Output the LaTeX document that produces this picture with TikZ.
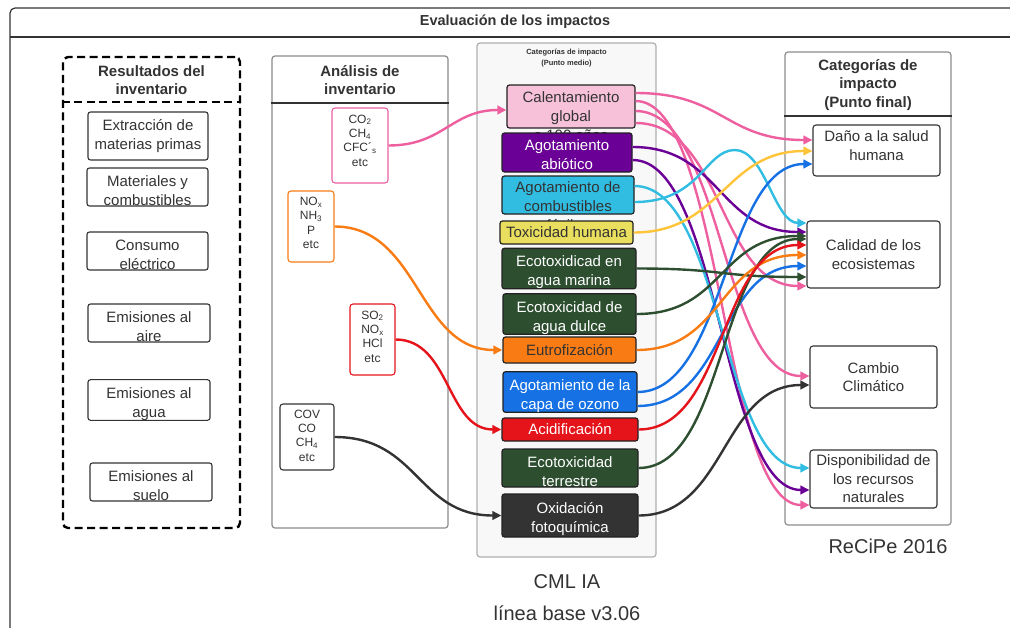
\documentclass[tikz,border=0pt]{standalone}
\usepackage{fontspec}
\setmainfont{Liberation Sans}
\usetikzlibrary{arrows.meta,calc}

\definecolor{ink}{HTML}{333333}
\definecolor{edge}{HTML}{222222}
\definecolor{panelgray}{HTML}{8C8C8C}
\definecolor{midfill}{HTML}{F8F8F8}
\definecolor{pinkln}{HTML}{EE5FA0}
\definecolor{pinkfill}{HTML}{F7C2D9}
\definecolor{purp}{HTML}{6A0096}
\definecolor{cyanc}{HTML}{31BDE2}
\definecolor{yelln}{HTML}{FFC43A}
\definecolor{yellfill}{HTML}{E9DE5E}
\definecolor{dgreen}{HTML}{2D4F30}
\definecolor{orng}{HTML}{F97B14}
\definecolor{blu}{HTML}{1672E4}
\definecolor{redc}{HTML}{E5141B}

\newcommand\fsz[2]{\fontsize{#1}{#2}\selectfont}
% taller first line: sets a two-line label a little lower in its box
\newcommand\topgap{\rule{0pt}{18.5pt}}

\begin{document}
\begin{tikzpicture}[x=1pt,y=-1pt,
  panel/.style={draw=panelgray, line width=1.2pt, rounded corners=3pt, inner sep=0pt},
  divider/.style={draw=ink, line width=1.2pt},
  head/.style={font=\bfseries\fsz{15}{18.5}, text=ink, align=center, inner sep=0pt},
  inv/.style={draw=ink, line width=1.1pt, rounded corners=2.5pt, fill=white, inner sep=0pt,
              font=\fsz{15}{19}, text=ink, align=center},
  chem/.style={line width=1.1pt, rounded corners=3pt, fill=white, inner sep=0pt},
  chemtext/.style={font=\fsz{12}{14.3}, text=ink, align=center, inner sep=0pt},
  cat/.style={draw=edge, line width=1.2pt, rounded corners=2.5pt, inner sep=0pt,
              font=\fsz{15}{19}, align=center},
  cattext/.style={font=\fsz{15}{19}, text=ink, align=center, inner sep=0pt},
  fin/.style={draw=ink, line width=1.1pt, rounded corners=3pt, fill=white, inner sep=0pt,
              font=\fsz{15}{18.5}, text=ink, align=center},
  conn/.style={line width=2.4pt, -{Triangle[length=9pt,width=8.5pt]}},
  sc/.style={to path={.. controls +(#1,0) and +(-#1,0) .. (\tikztotarget)}},
  sc/.default=88,
  big/.style={font=\fsz{20}{24}, text=ink, inner sep=0pt}]

\useasboundingbox (0,0) rectangle (1010,627);

% outer frame with its title bar
\begin{scope}
  \clip (0,0) rectangle (1010,627);
  \draw[divider, rounded corners=5pt] (1040,8) -- (10,8) -- (10,660);
  \draw[divider] (10,37) -- (1040,37);
\end{scope}
\node[font=\bfseries\fsz{14.5}{17}, text=ink, inner sep=0pt] (title) at (515,22) {Evaluación de los impactos};

% inventory results
\node[draw=black, line width=2.4pt, dash pattern=on 8pt off 4.5pt, rounded corners=5pt,
      minimum width=177, minimum height=471, inner sep=0pt] (res) at (151.5,292.5) {};
\draw[line width=2.4pt, dash pattern=on 8pt off 4.5pt] (res.west |- 0,102) -- (res.east |- 0,102);
\node[head] (rest) at (151.5,80) {Resultados del\\inventario};

\node[inv, minimum width=120, minimum height=48] (ext) at (148,136) {Extracción de\\materias primas};
\node[inv, minimum width=121, minimum height=38] (mat) at (147.5,187) {\topgap Materiales y\\combustibles};
\node[inv, minimum width=121, minimum height=38] (con) at (147.5,251) {\topgap Consumo\\eléctrico};
\node[inv, minimum width=122, minimum height=38] (aire) at (149,323) {\topgap Emisiones al\\aire};
\node[inv, minimum width=122, minimum height=38] (agua) at (149,400) {\topgap Emisiones al\\agua};
\node[inv, minimum width=122, minimum height=38] (suelo) at (151,482) {\topgap Emisiones al\\suelo};

% inventory analysis
\node[panel, fill=white, minimum width=176, minimum height=472] (ana) at (360,292) {};
\draw[divider] (ana.west |- 0,103) -- (ana.east |- 0,103);
\node[head] (anat) at (360,80) {Análisis de\\inventario};

\node[chem, draw=pinkln, minimum width=56, minimum height=75] (co2) at (360,145.5) {};
\node[chemtext] (co2t) at (360,140.5) {CO\textsubscript{2}\\CH\textsubscript{4}\\CFC´\textsubscript{s}\\etc};
\node[chem, draw=orng, minimum width=46, minimum height=71] (nox) at (311,226.5) {};
\node[chemtext] (noxt) at (311,223) {NO\textsubscript{x}\\NH\textsubscript{3}\\P\\etc};
\node[chem, draw=redc, minimum width=45, minimum height=71] (so2) at (372.5,339.5) {};
\node[chemtext] (so2t) at (372.5,336.5) {SO\textsubscript{2}\\NO\textsubscript{x}\\HCl\\etc};
\node[chem, draw=ink, minimum width=54, minimum height=66] (cov) at (307,437) {};
\node[chemtext] (covt) at (307,435.5) {COV\\CO\\CH\textsubscript{4}\\etc};

% midpoint categories
\node[panel, draw=panelgray!70, fill=midfill, minimum width=179, minimum height=514] (mid) at (566.5,300) {};
\node[font=\bfseries\fsz{7.5}{11}, text=ink, align=center, inner sep=0pt] (midt) at (566.5,58.5)
  {Categorías de impacto\\(Punto medio)};

\node[cat, fill=pinkfill, minimum width=128, minimum height=43] (cal) at (571,106.5) {};
\node[cattext] (calt) at (571,116) {Calentamiento\\global\\a 100 años};
\node[cat, fill=purp, text=white, minimum width=130, minimum height=39] (abi) at (567,152.5) {\rule{0pt}{16pt}Agotamiento\\abiótico};
\node[cat, fill=cyanc, minimum width=132, minimum height=38] (fos) at (568,195) {};
\node[cattext] (fost) at (568,206) {Agotamiento de\\combustibles\\fósiles};
\node[cat, fill=yellfill, text=ink, minimum width=133, minimum height=23] (tox) at (566.5,232.5) {Toxicidad humana};
\node[cat, fill=dgreen, text=white, minimum width=134, minimum height=37] (mar) at (569,268.5) {\topgap Ecotoxidicad en\\agua marina};
\node[cat, fill=dgreen, text=white, minimum width=133, minimum height=38] (dul) at (569.5,314) {\topgap Ecotoxicidad de\\agua dulce};
\node[cat, fill=orng, text=ink, minimum width=133, minimum height=26] (eut) at (569.5,350) {Eutrofización};
\node[cat, fill=blu, text=white, minimum width=134, minimum height=40] (ozo) at (570,392) {\topgap Agotamiento de la\\capa de ozono};
\node[cat, fill=redc, text=white, minimum width=136, minimum height=23] (aci) at (570,429.5) {Acidificación};
\node[cat, fill=dgreen, text=white, minimum width=136, minimum height=38] (ter) at (570,468) {\topgap Ecotoxicidad\\terrestre};
\node[cat, fill=ink, text=white, minimum width=136, minimum height=43] (oxi) at (570,515.5) {\topgap Oxidación\\fotoquímica};

\node[big] (cml) at (567,582) {CML IA};
\node[big] (lin) at (567,613) {línea base v3.06};

% endpoint categories
\node[panel, fill=white, minimum width=166, minimum height=473] (rpan) at (868,288.5) {};
\draw[divider] (rpan.west |- 0,116) -- (rpan.east |- 0,116);
\node[head] (rpant) at (868,85) {Categorías de\\impacto\\(Punto final)};

\node[fin, minimum width=127, minimum height=51] (dano) at (876.5,150.5) {};
\node[cattext] (danot) at (876.5,146) {Daño a la salud\\humana};
\node[fin, minimum width=133, minimum height=67] (calid) at (873.5,254.5) {Calidad de los\\ecosistemas};
\node[fin, minimum width=127, minimum height=62] (cam) at (873.5,377) {Cambio\\Climático};
\node[fin, minimum width=127, minimum height=58] (dis) at (873.5,479) {Disponibilidad de\\los recursos\\naturales};

\node[big] (recipe) at (888,546) {ReCiPe 2016};

% inventory flows into midpoint categories
\draw[conn, pinkln] (co2.east) to[sc=55] ($(cal.west)+(0,3.5)$);
\draw[conn, orng] (nox.east) to[sc=85] (eut.west);
\draw[conn, redc] (so2.east) to[sc=55] (aci.west);
\draw[conn, ink] (cov.east) to[sc=84] (oxi.west);

% midpoint to endpoint links
\draw[conn, pinkln] ($(cal.east)+(0,-13.5)$) to[sc] ($(dano.west)+(0,-10.5)$);
\draw[conn, pinkln] ($(cal.east)+(0,-5.5)$) to[sc] ($(dis.west)+(0,26)$);
\draw[conn, pinkln] ($(cal.east)+(0,4.5)$) to[sc] ($(cam.west)+(0,-1)$);
\draw[conn, pinkln] ($(cal.east)+(0,16.5)$) to[sc] ($(calid.west)+(0,31.5)$);
\draw[conn, purp] ($(abi.east)+(0,-5.5)$) to[sc] ($(calid.west)+(0,-22.5)$);
\draw[conn, purp] ($(abi.east)+(0,7.5)$) to[sc] ($(dis.west)+(0,11)$);
\draw[conn, cyanc] ($(fos.east)+(0,-9)$) to[sc] ($(dis.west)+(0,-11)$);
\coordinate (cpk) at (735,150);
\draw[conn, cyanc] ($(fos.east)+(0,7)$) .. controls +(66,0) and +(-30,0) .. (cpk)
  .. controls +(30,0) and +(-32,0) .. ($(calid.west)+(0,-31.5)$);
\draw[conn, yelln] (tox.east) to[sc] ($(dano.west)+(0,0.5)$);
\draw[conn, blu] (ozo.east) to[sc] ($(dano.west)+(0,13.5)$);
\draw[conn, blu] ($(ozo.east)+(0,14)$) to[sc] ($(calid.west)+(0,11.5)$);
\draw[conn, dgreen] (mar.east) to[sc] ($(calid.west)+(0,22.5)$);
\draw[conn, dgreen] (dul.east) to[sc] ($(calid.west)+(0,-18.5)$);
\draw[conn, dgreen] (ter.east) to[sc] ($(calid.west)+(0,-15.5)$);
\draw[conn, orng] (eut.east) to[sc] ($(calid.west)+(0,0.5)$);
\draw[conn, redc] (aci.east) to[sc] ($(calid.west)+(0,-9.5)$);
\draw[conn, ink] (oxi.east) to[sc] ($(cam.west)+(0,8)$);

\end{tikzpicture}
\end{document}
